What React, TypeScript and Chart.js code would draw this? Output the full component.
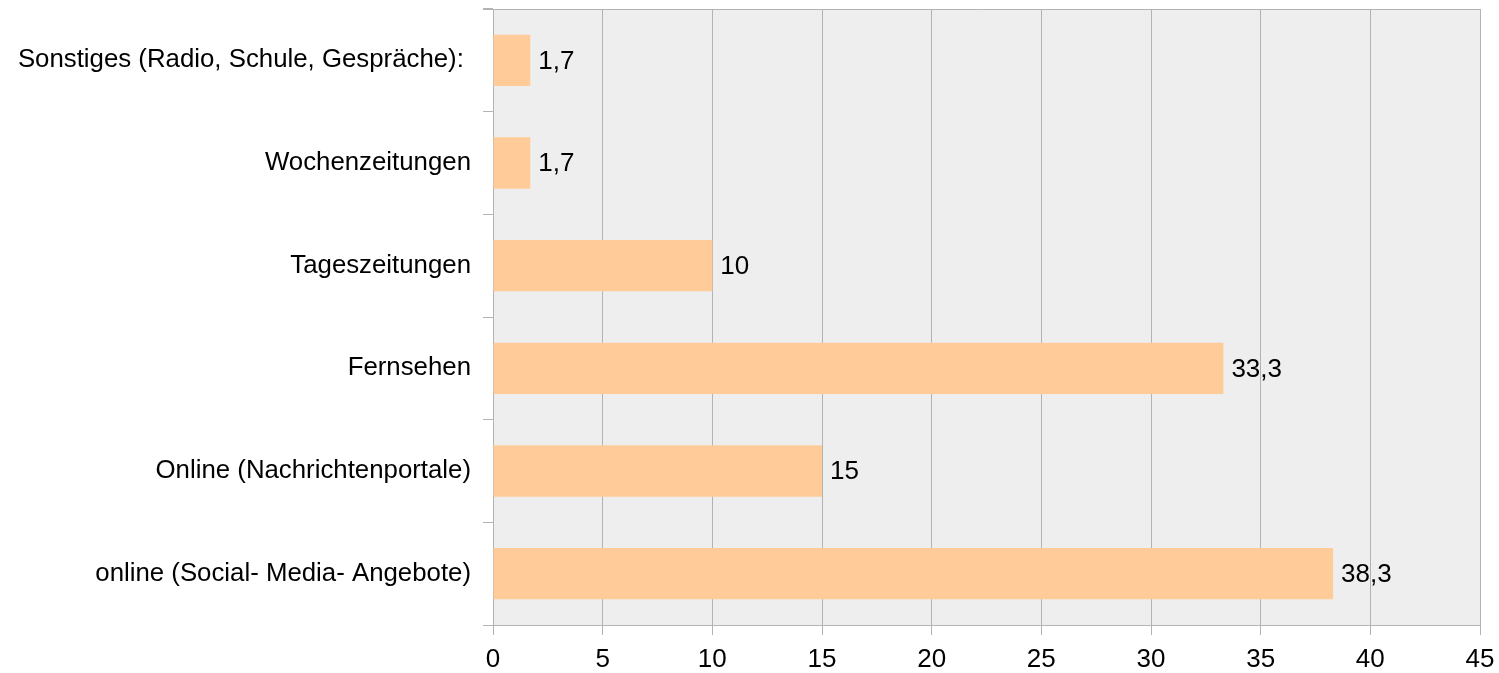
import React, { useEffect, useRef } from "react";
import { Chart, registerables } from "chart.js";

Chart.register(...registerables);

const categories = [
  "Sonstiges (Radio, Schule, Gespräche): ",
  "Wochenzeitungen",
  "Tageszeitungen",
  "Fernsehen",
  "Online (Nachrichtenportale)",
  "online (Social- Media- Angebote)",
];
const values = [1.7, 1.7, 10, 33.3, 15, 38.3];
const xMin = 0;
const xMax = 45;
const xStep = 5;

const FONT = "'Liberation Sans', Arial, sans-serif";
const GRID = "#b3b3b3";

const fmt = (v: number) => String(v).replace(".", ",");

const bgPlugin = {
  id: "bgPlugin",
  beforeDraw(chart: any) {
    const { ctx, chartArea } = chart;
    ctx.save();
    ctx.fillStyle = "#eeeeee";
    ctx.fillRect(chartArea.left, chartArea.top, chartArea.right - chartArea.left, chartArea.bottom - chartArea.top);
    ctx.restore();
  },
  afterDraw(chart: any) {
    const { ctx, chartArea } = chart;
    ctx.save();
    ctx.strokeStyle = GRID;
    ctx.lineWidth = 1;
    ctx.beginPath();
    ctx.moveTo(chartArea.left - 10, chartArea.top + 0.5);
    ctx.lineTo(chartArea.right, chartArea.top + 0.5);
    ctx.stroke();
    ctx.restore();
  },
};

const labelPlugin = {
  id: "labelPlugin",
  afterDatasetsDraw(chart: any) {
    const { ctx } = chart;
    const meta = chart.getDatasetMeta(0);
    ctx.save();
    ctx.font = `26px ${FONT}`;
    ctx.fillStyle = "#000000";
    ctx.textAlign = "left";
    ctx.textBaseline = "middle";
    meta.data.forEach((bar: any, i: number) => {
      ctx.fillText(fmt(values[i]), bar.x + 8, bar.y + 1);
    });
    ctx.restore();
  },
};

export default function App() {
  const ref = useRef<HTMLCanvasElement | null>(null);
  useEffect(() => {
    document.body.style.margin = "0";
    const chart = new Chart(ref.current!, {
      type: "bar",
      data: {
        labels: categories,
        datasets: [
          {
            data: values,
            backgroundColor: "#ffcc99",
            borderWidth: 0,
            barPercentage: 0.5,
            categoryPercentage: 1,
          },
        ],
      },
      options: {
        indexAxis: "y",
        animation: false,
        responsive: false,
        maintainAspectRatio: false,
        layout: { padding: { top: 9, right: 19, left: 0, bottom: 0 } },
        plugins: { legend: { display: false }, tooltip: { enabled: false } },
        scales: {
          x: {
            min: xMin,
            max: xMax,
            ticks: {
              stepSize: xStep,
              color: "#000000",
              font: { family: FONT, size: 26 },
              padding: 9,
              maxRotation: 0,
            },
            grid: { color: GRID, tickLength: 10, drawTicks: true },
            border: { color: GRID },
            afterFit(scale: any) {
              scale.height = 48;
              scale.paddingLeft = 0;
              scale.paddingRight = 0;
            },
          },
          y: {
            ticks: {
              color: "#000000",
              font: { family: FONT, size: 25.8 },
              padding: 12,
            },
            grid: { color: GRID, offset: true, drawOnChartArea: false, tickLength: 10 },
            border: { color: GRID },
            afterFit(scale: any) {
              scale.width = 493;
              scale.paddingTop = 0;
              scale.paddingBottom = 0;
            },
          },
        },
      },
      plugins: [bgPlugin, labelPlugin],
    });
    return () => chart.destroy();
  }, []);
  return (
    <div style={{ width: 1499, height: 673, background: "#ffffff" }}>
      <canvas ref={ref} width={1499} height={673} style={{ display: "block" }} />
    </div>
  );
}
